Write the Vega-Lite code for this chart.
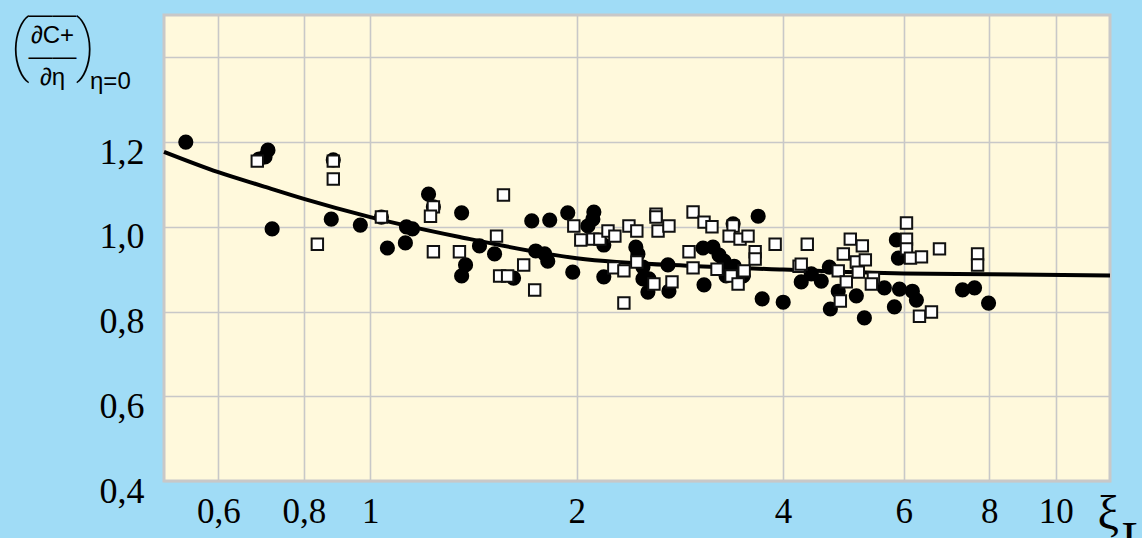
{
  "$schema": "https://vega.github.io/schema/vega-lite/v6.json",
  "width": 946,
  "height": 466,
  "autosize": {"type": "none"},
  "padding": {"left": 164, "top": 15, "right": 32, "bottom": 57},
  "background": "#A0DCF6",
  "title": {
    "text": "(\u00a0\u00a0\u2009)",
    "subtitle": "\u200b\u00a0\u00a0\u00a0\u00a0\u00a0\u00a0\u00a0\u00a0\u00a0\u00a0\u00a0\u00a0η=0",
    "anchor": "start",
    "frame": "group",
    "orient": "top",
    "offset": 0,
    "dx": -154,
    "dy": 93,
    "font": "Roboto",
    "fontWeight": 100,
    "fontSize": 67,
    "color": "black",
    "subtitleFont": "Liberation Sans",
    "subtitleFontSize": 24,
    "subtitleColor": "black",
    "subtitlePadding": -12
  },
  "datasets": {
    "curve": [
      {"xi": 0.5, "c": 1.177}, {"xi": 0.6, "c": 1.129}, {"xi": 0.7, "c": 1.095},
      {"xi": 0.8, "c": 1.066}, {"xi": 1.0, "c": 1.023}, {"xi": 1.35, "c": 0.976},
      {"xi": 2.0, "c": 0.926}, {"xi": 3.0, "c": 0.907}, {"xi": 4.0, "c": 0.899},
      {"xi": 6.0, "c": 0.890}, {"xi": 8.0, "c": 0.888}, {"xi": 12.0, "c": 0.885}
    ],
    "points": [
      {"m": "o", "xi": 0.538, "c": 1.200}, {"m": "o", "xi": 0.709, "c": 1.181},
      {"m": "o", "xi": 0.702, "c": 1.165}, {"m": "o", "xi": 0.688, "c": 1.160},
      {"m": "o", "xi": 0.719, "c": 0.995}, {"m": "o", "xi": 0.877, "c": 1.018},
      {"m": "o", "xi": 0.883, "c": 1.158}, {"m": "o", "xi": 0.967, "c": 1.004},
      {"m": "o", "xi": 1.038, "c": 1.023}, {"m": "o", "xi": 1.059, "c": 0.950},
      {"m": "o", "xi": 1.129, "c": 1.000}, {"m": "o", "xi": 1.152, "c": 0.995},
      {"m": "o", "xi": 1.125, "c": 0.962}, {"m": "o", "xi": 1.216, "c": 1.077},
      {"m": "o", "xi": 1.236, "c": 1.047}, {"m": "o", "xi": 1.359, "c": 1.033},
      {"m": "o", "xi": 1.443, "c": 0.955}, {"m": "o", "xi": 1.518, "c": 0.936},
      {"m": "o", "xi": 1.377, "c": 0.910}, {"m": "o", "xi": 1.359, "c": 0.884},
      {"m": "o", "xi": 1.618, "c": 0.879}, {"m": "o", "xi": 1.720, "c": 1.014},
      {"m": "o", "xi": 1.827, "c": 1.016}, {"m": "o", "xi": 1.743, "c": 0.943},
      {"m": "o", "xi": 1.796, "c": 0.936}, {"m": "o", "xi": 1.815, "c": 0.919},
      {"m": "o", "xi": 1.974, "c": 0.893}, {"m": "o", "xi": 1.941, "c": 1.033},
      {"m": "o", "xi": 2.119, "c": 1.035}, {"m": "o", "xi": 2.112, "c": 1.018},
      {"m": "o", "xi": 2.077, "c": 1.002}, {"m": "o", "xi": 2.191, "c": 0.957},
      {"m": "o", "xi": 2.191, "c": 0.882}, {"m": "o", "xi": 2.440, "c": 0.952},
      {"m": "o", "xi": 2.457, "c": 0.936}, {"m": "o", "xi": 2.499, "c": 0.905},
      {"m": "o", "xi": 2.499, "c": 0.877}, {"m": "o", "xi": 2.550, "c": 0.877},
      {"m": "o", "xi": 2.541, "c": 0.846}, {"m": "o", "xi": 2.718, "c": 0.910},
      {"m": "o", "xi": 2.727, "c": 0.848}, {"m": "o", "xi": 3.068, "c": 0.863},
      {"m": "o", "xi": 3.058, "c": 0.950}, {"m": "o", "xi": 3.162, "c": 0.952},
      {"m": "o", "xi": 3.227, "c": 0.933}, {"m": "o", "xi": 3.282, "c": 0.919},
      {"m": "o", "xi": 3.304, "c": 0.884}, {"m": "o", "xi": 3.383, "c": 1.007},
      {"m": "o", "xi": 3.395, "c": 0.907}, {"m": "o", "xi": 3.499, "c": 0.884},
      {"m": "o", "xi": 3.680, "c": 1.025}, {"m": "o", "xi": 3.730, "c": 0.830},
      {"m": "o", "xi": 4.003, "c": 0.822}, {"m": "o", "xi": 4.253, "c": 0.870},
      {"m": "o", "xi": 4.399, "c": 0.889}, {"m": "o", "xi": 4.549, "c": 0.872},
      {"m": "o", "xi": 4.674, "c": 0.905}, {"m": "o", "xi": 4.816, "c": 0.848},
      {"m": "o", "xi": 4.690, "c": 0.806}, {"m": "o", "xi": 5.118, "c": 0.837},
      {"m": "o", "xi": 5.258, "c": 0.785}, {"m": "o", "xi": 5.623, "c": 0.856},
      {"m": "o", "xi": 5.816, "c": 0.811}, {"m": "o", "xi": 5.916, "c": 0.853},
      {"m": "o", "xi": 6.178, "c": 0.848}, {"m": "o", "xi": 6.262, "c": 0.827},
      {"m": "o", "xi": 5.855, "c": 0.969}, {"m": "o", "xi": 5.895, "c": 0.926},
      {"m": "o", "xi": 7.312, "c": 0.851}, {"m": "o", "xi": 7.613, "c": 0.856},
      {"m": "o", "xi": 7.980, "c": 0.820},
      {"m": "s", "xi": 0.684, "c": 1.155}, {"m": "s", "xi": 0.883, "c": 1.155},
      {"m": "s", "xi": 0.883, "c": 1.113}, {"m": "s", "xi": 0.837, "c": 0.959},
      {"m": "s", "xi": 1.038, "c": 1.023}, {"m": "s", "xi": 1.236, "c": 1.047},
      {"m": "s", "xi": 1.224, "c": 1.025}, {"m": "s", "xi": 1.236, "c": 0.941},
      {"m": "s", "xi": 1.349, "c": 0.941}, {"m": "s", "xi": 1.564, "c": 1.075},
      {"m": "s", "xi": 1.528, "c": 0.978}, {"m": "s", "xi": 1.544, "c": 0.884},
      {"m": "s", "xi": 1.586, "c": 0.884}, {"m": "s", "xi": 1.674, "c": 0.910},
      {"m": "s", "xi": 1.737, "c": 0.851}, {"m": "s", "xi": 1.981, "c": 1.002},
      {"m": "s", "xi": 2.028, "c": 0.969}, {"m": "s", "xi": 2.112, "c": 0.971},
      {"m": "s", "xi": 2.162, "c": 0.971}, {"m": "s", "xi": 2.222, "c": 0.990},
      {"m": "s", "xi": 2.274, "c": 0.978}, {"m": "s", "xi": 2.384, "c": 1.002},
      {"m": "s", "xi": 2.448, "c": 0.990}, {"m": "s", "xi": 2.266, "c": 0.903},
      {"m": "s", "xi": 2.344, "c": 0.896}, {"m": "s", "xi": 2.344, "c": 0.820},
      {"m": "s", "xi": 2.448, "c": 0.917}, {"m": "s", "xi": 2.593, "c": 0.865},
      {"m": "s", "xi": 2.611, "c": 1.030}, {"m": "s", "xi": 2.611, "c": 1.023},
      {"m": "s", "xi": 2.629, "c": 0.990}, {"m": "s", "xi": 2.727, "c": 1.002},
      {"m": "s", "xi": 2.755, "c": 0.870}, {"m": "s", "xi": 2.957, "c": 1.035},
      {"m": "s", "xi": 3.068, "c": 1.011}, {"m": "s", "xi": 3.151, "c": 1.000},
      {"m": "s", "xi": 2.917, "c": 0.941}, {"m": "s", "xi": 2.957, "c": 0.903},
      {"m": "s", "xi": 3.205, "c": 0.900}, {"m": "s", "xi": 3.383, "c": 1.002},
      {"m": "s", "xi": 3.338, "c": 0.978}, {"m": "s", "xi": 3.463, "c": 0.971},
      {"m": "s", "xi": 3.557, "c": 0.978}, {"m": "s", "xi": 3.360, "c": 0.884},
      {"m": "s", "xi": 3.511, "c": 0.896}, {"m": "s", "xi": 3.440, "c": 0.865},
      {"m": "s", "xi": 3.643, "c": 0.941}, {"m": "s", "xi": 3.643, "c": 0.924},
      {"m": "s", "xi": 3.896, "c": 0.959}, {"m": "s", "xi": 4.340, "c": 0.959},
      {"m": "s", "xi": 4.222, "c": 0.907}, {"m": "s", "xi": 4.253, "c": 0.912},
      {"m": "s", "xi": 4.816, "c": 0.896}, {"m": "s", "xi": 4.850, "c": 0.825},
      {"m": "s", "xi": 4.948, "c": 0.870}, {"m": "s", "xi": 4.899, "c": 0.936},
      {"m": "s", "xi": 5.015, "c": 0.971}, {"m": "s", "xi": 5.222, "c": 0.955},
      {"m": "s", "xi": 5.118, "c": 0.917}, {"m": "s", "xi": 5.275, "c": 0.922},
      {"m": "s", "xi": 5.152, "c": 0.893}, {"m": "s", "xi": 5.420, "c": 0.879},
      {"m": "s", "xi": 5.383, "c": 0.865}, {"m": "s", "xi": 6.057, "c": 1.009},
      {"m": "s", "xi": 6.057, "c": 0.971}, {"m": "s", "xi": 6.057, "c": 0.948},
      {"m": "s", "xi": 6.139, "c": 0.926}, {"m": "s", "xi": 6.370, "c": 0.929},
      {"m": "s", "xi": 6.767, "c": 0.948}, {"m": "s", "xi": 7.691, "c": 0.936},
      {"m": "s", "xi": 7.691, "c": 0.910}, {"m": "s", "xi": 6.327, "c": 0.789},
      {"m": "s", "xi": 6.587, "c": 0.799}
    ]
  },
  "encoding": {
    "x": {
      "field": "xi",
      "type": "quantitative",
      "scale": {"type": "log", "domain": [0.5, 12], "nice": false, "zero": false},
      "axis": {
        "values": [0.6, 0.8, 1, 2, 4, 6, 8, 10],
        "grid": true,
        "labelExpr": "replace(format(datum.value, '~g'), '.', ',')",
        "labelFont": "Liberation Serif",
        "labelFontSize": 35,
        "labelBaseline": "top",
        "labelPadding": 13,
        "labelOverlap": false,
        "labelFlush": false,
        "title": ["ξ", "\u200b\u00a0\u00a0L"],
        "titleFont": "Liberation Serif",
        "titleFontSize": 48,
        "titleFontWeight": "normal",
        "titleColor": "black",
        "titleAlign": "left",
        "titleBaseline": "alphabetic",
        "titleLineHeight": 26,
        "titleX": 933,
        "titleY": 47
      }
    },
    "y": {
      "field": "c",
      "type": "quantitative",
      "scale": {"domain": [0.4, 1.5], "nice": false, "zero": false},
      "axis": {
        "values": [0.4, 0.6, 0.8, 1.0, 1.2, 1.4],
        "grid": true,
        "labelExpr": "datum.value > 1.3 ? '' : replace(format(datum.value, '.1f'), '.', ',')",
        "labelFont": "Liberation Serif",
        "labelFontSize": 36,
        "labelPadding": 20,
        "labelOffset": 10,
        "labelOverlap": false,
        "labelFlush": false,
        "title": ["——", "∂C+", "——", "∂η"],
        "titleFont": "Liberation Sans",
        "titleFontSize": 24,
        "titleFontWeight": "normal",
        "titleColor": "black",
        "titleAngle": 0,
        "titleAlign": "center",
        "titleBaseline": "alphabetic",
        "titleLineHeight": 21,
        "titleX": -112,
        "titleY": 6
      }
    }
  },
  "layer": [
    {
      "data": {"name": "curve"},
      "mark": {"type": "line", "color": "black", "strokeWidth": 4, "interpolate": "monotone"}
    },
    {
      "data": {"name": "points"},
      "transform": [{"filter": "datum.m === 'o'"}],
      "mark": {"type": "circle", "size": 230, "color": "black", "opacity": 1}
    },
    {
      "data": {"name": "points"},
      "transform": [{"filter": "datum.m === 's'"}],
      "mark": {"type": "square", "size": 130, "filled": true, "fill": "white", "stroke": "#111111", "strokeWidth": 2, "opacity": 1}
    }
  ],
  "config": {
    "view": {"fill": "#FFF9DC", "stroke": "#C8C8C8", "strokeWidth": 3},
    "axis": {
      "domain": false,
      "ticks": false,
      "gridColor": "#C8C8C8",
      "gridWidth": 1.6,
      "gridOpacity": 1,
      "labelColor": "black"
    }
  }
}
